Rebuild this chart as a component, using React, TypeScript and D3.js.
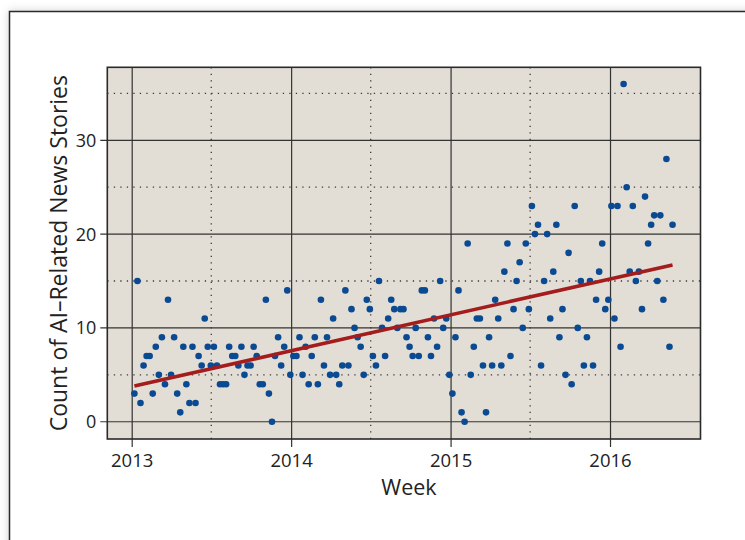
import { useEffect, useRef } from 'react';
import * as d3 from 'd3';

// weekly story counts, one array per calendar year (first week: Sun 6 Jan 2013)
const counts2013 = [3,15,2,6,7,7,3,8,5,9,4,13,5,9,3,1,8,4,2,8,2,7,6,11,8,6,8,6,4,4,4,8,7,7,6,8,5,6,6,8,7,4,4,13,3,0,7,9,6,8,14,5];
const counts2014 = [7,7,9,5,8,4,7,9,4,13,6,9,5,11,5,4,6,14,6,12,10,9,8,5,13,12,7,6,15,10,7,11,13,12,10,12,12,9,8,7,10,7,14,14,9,7,11,8,15,10,11,5];
const counts2015 = [3,9,14,1,0,19,5,8,11,11,6,1,9,6,13,11,6,16,19,7,12,15,17,10,19,12,23,20,21,6,15,20,11,16,21,9,12,5,18,4,23,10,15,6,9,15,6,13,16,19,12,13];
const counts2016 = [23,11,23,8,36,25,16,23,15,16,12,24,19,21,22,15,22,13,28,8,21];

const yearTicks = [2013, 2014, 2015, 2016];
const halfYearTicks = [2013.5, 2014.5, 2015.5];
const yMajor = [0, 10, 20, 30];
const yMinor = [5, 15, 25, 35];

const FONT = '"Open Sans", sans-serif';

export default function App() {
  const svgRef = useRef<SVGSVGElement>(null);

  useEffect(() => {
    if (!svgRef.current) return;
    const svg = d3.select(svgRef.current);
    svg.selectAll('*').remove();

    const W = 745, H = 540;
    const panel = { left: 107.3, right: 700.5, top: 67.3, bottom: 439 };

    const counts = [...counts2013, ...counts2014, ...counts2015, ...counts2016];
    const firstWeek = new Date(2013, 0, 6);
    const weeks = d3.timeWeek.range(firstWeek, d3.timeWeek.offset(firstWeek, counts.length));
    const data = counts.map((v, i) => ({ date: weeks[i], value: v }));

    const x = d3.scaleTime()
      .domain([new Date(2012, 10, 5), new Date(2016, 6, 25)])
      .range([panel.left, panel.right]);
    const y = d3.scaleLinear()
      .domain([-1.84, 37.78])
      .range([panel.bottom, panel.top]);

    const yearDate = (yr: number) => {
      const whole = Math.floor(yr);
      return new Date(whole, (yr - whole) * 12, 1);
    };

    // ── outer frame with soft shadow ─────────────────────────
    const defs = svg.append('defs');
    const f = defs.append('filter').attr('id', 'shadow')
      .attr('x', '-10%').attr('y', '-10%').attr('width', '120%').attr('height', '120%');
    f.append('feDropShadow').attr('dx', 0).attr('dy', 0).attr('stdDeviation', 4)
      .attr('flood-color', '#000').attr('flood-opacity', 0.18);

    svg.append('rect').attr('width', W).attr('height', H).attr('fill', '#fff');
    svg.append('rect')
      .attr('x', 9.5).attr('y', 11.5).attr('width', 900).attr('height', 700)
      .attr('fill', '#fff').attr('stroke', '#2b2b2b').attr('stroke-width', 1.5)
      .attr('filter', 'url(#shadow)');

    // ── panel ────────────────────────────────────────────────
    svg.append('rect')
      .attr('x', panel.left).attr('y', panel.top)
      .attr('width', panel.right - panel.left).attr('height', panel.bottom - panel.top)
      .attr('fill', '#e2ddd5');

    const grid = svg.append('g');
    // minor dotted
    grid.selectAll('.hmin').data(yMinor).join('line')
      .attr('x1', panel.left).attr('x2', panel.right)
      .attr('y1', d => y(d)).attr('y2', d => y(d))
      .attr('stroke', '#3a3a3a').attr('stroke-width', 1.3).attr('stroke-dasharray', '1.3,5.2');
    grid.selectAll('.vmin').data(halfYearTicks).join('line')
      .attr('x1', d => x(yearDate(d))).attr('x2', d => x(yearDate(d)))
      .attr('y1', panel.top).attr('y2', panel.bottom)
      .attr('stroke', '#3a3a3a').attr('stroke-width', 1.3).attr('stroke-dasharray', '1.3,5.2');
    // major solid
    grid.selectAll('.hmaj').data(yMajor).join('line')
      .attr('x1', panel.left - 7).attr('x2', panel.right)
      .attr('y1', d => y(d)).attr('y2', d => y(d))
      .attr('stroke', '#333').attr('stroke-width', 1.2);
    grid.selectAll('.vmaj').data(yearTicks).join('line')
      .attr('x1', d => x(yearDate(d))).attr('x2', d => x(yearDate(d)))
      .attr('y1', panel.top).attr('y2', panel.bottom + 8)
      .attr('stroke', '#333').attr('stroke-width', 1.2);

    svg.append('rect')
      .attr('x', panel.left).attr('y', panel.top)
      .attr('width', panel.right - panel.left).attr('height', panel.bottom - panel.top)
      .attr('fill', 'none').attr('stroke', '#2a2a2a').attr('stroke-width', 1.6);

    // ── tick labels ──────────────────────────────────────────
    svg.append('g').selectAll('text').data(yMajor).join('text')
      .attr('x', panel.left - 11).attr('y', d => y(d)).attr('dy', '0.36em')
      .attr('text-anchor', 'end').attr('font-family', FONT).attr('font-size', 18)
      .attr('fill', '#222').text(d => d);
    svg.append('g').selectAll('text').data(yearTicks).join('text')
      .attr('x', d => x(yearDate(d))).attr('y', 467)
      .attr('text-anchor', 'middle').attr('font-family', FONT).attr('font-size', 18.5)
      .attr('fill', '#222').text(d => d);

    // ── axis titles ──────────────────────────────────────────
    svg.append('text')
      .attr('x', 409).attr('y', 495).attr('text-anchor', 'middle')
      .attr('font-family', FONT).attr('font-size', 21.5).attr('fill', '#222').text('Week');
    svg.append('text')
      .attr('transform', `translate(67,${(panel.top + panel.bottom) / 2}) rotate(-90)`)
      .attr('text-anchor', 'middle')
      .attr('font-family', FONT).attr('font-size', 23).attr('fill', '#222')
      .text('Count of AI–Related News Stories');

    // ── points ───────────────────────────────────────────────
    svg.append('g').selectAll('circle').data(data).join('circle')
      .attr('cx', d => x(d.date)).attr('cy', d => y(d.value)).attr('r', 3.3)
      .attr('fill', '#0a4a92');

    // ── least squares trend ──────────────────────────────────
    const xs = data.map(d => +d.date);
    const ys = data.map(d => d.value);
    const mx = d3.mean(xs)!, my = d3.mean(ys)!;
    const slope = d3.sum(xs, (v, i) => (v - mx) * (ys[i] - my)) / d3.sum(xs, v => (v - mx) ** 2);
    const fit = (t: number) => my + slope * (t - mx);
    const ends = [data[0].date, data[data.length - 1].date];
    svg.append('path')
      .datum(ends)
      .attr('d', d3.line<Date>().x(d => x(d)).y(d => y(fit(+d))))
      .attr('fill', 'none').attr('stroke', '#a41c1c').attr('stroke-width', 3.6);
  }, []);

  return (
    <div style={{ position: 'absolute', left: 0, top: 0 }}>
      <svg ref={svgRef} width={745} height={540} style={{ display: 'block' }} />
    </div>
  );
}
